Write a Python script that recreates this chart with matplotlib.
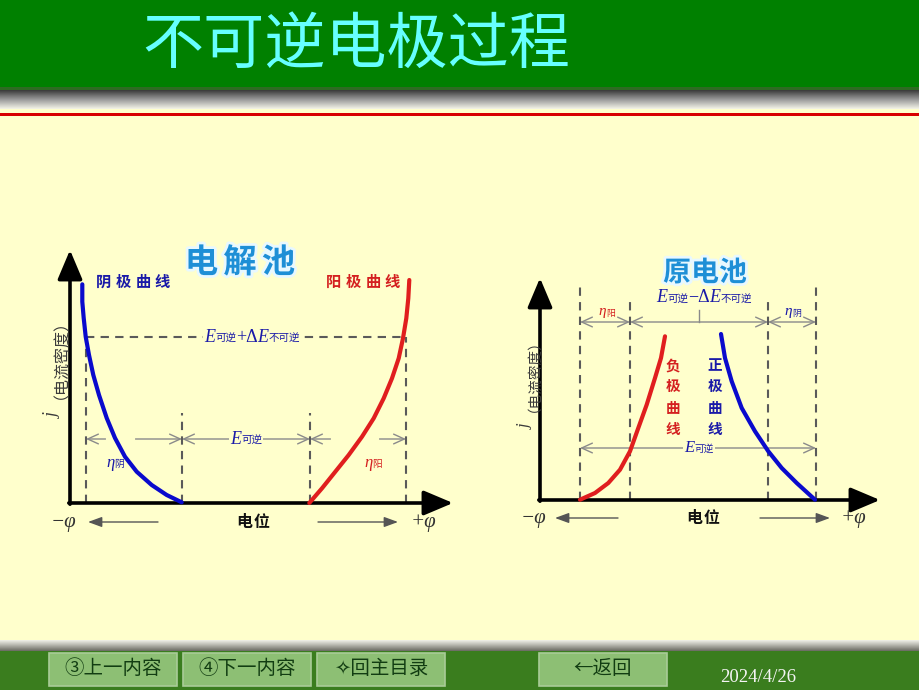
import numpy as np
import matplotlib
matplotlib.use('Agg')
from matplotlib import pyplot as plt
from matplotlib.patches import Rectangle
from matplotlib.offsetbox import TextArea, HPacker, AnnotationBbox
import matplotlib.patheffects as pe

plt.rcParams['font.family'] = ['Noto Sans CJK SC', 'DejaVu Sans']

BG = '#FFFFCC'
BLUE = '#0A0ACC'
RED = '#E01E1E'
TXT_BLUE = '#1A1AA8'
TXT_RED = '#D42020'
DASH = '#5A5A5A'
DIM = '#8A8A8A'

title = '不可逆电极过程'
buttons = ['③上一内容', '④下一内容', '✧回主目录', '←返回']
button_x = [49, 183, 317, 539]
date_text = '2024/4/26'

# electrolytic cell (left): potential / current, arbitrary units from origin
cathode_phi = [12.3, 12.3, 13.7, 15.7, 19, 23.3, 29, 36.7, 45, 55, 66.7, 81.7, 96.7, 111.7]
cathode_j = [218.7, 201.3, 185, 166.3, 148, 128, 108, 85, 65, 46.3, 31.3, 18, 8, 0.7]
anode_phi = [239.3, 252, 265.3, 278.7, 292, 303.7, 313.7, 322, 328.7, 333, 336.3, 338.3, 339.3]
anode_j = [0, 14.7, 31.3, 48, 66.3, 84.7, 104.7, 124.7, 144.7, 164.7, 184.7, 204.7, 223]
left_marks = [16, 112, 240, 336]      # phi of the dashed verticals
left_mark_top = [166, 90, 90, 166]
left_level = 166                      # j of the horizontal dashed line
left_dim_j = 64
left_gaps = [(38, 63), (263, 307)]    # breaks in the eta arrows

# galvanic cell (right)
neg_phi = [40, 55, 68.3, 80, 90, 98.3, 106.7, 115, 121, 125]
neg_j = [0.3, 7, 17, 30.3, 48.7, 72, 95.3, 122, 142, 163.7]
pos_phi = [181, 185, 191.7, 201.7, 215, 228.3, 241.7, 256.7, 275]
pos_j = [166, 142, 118.7, 92, 68.7, 48.7, 32, 17, 0.3]
right_marks = [40, 90, 228, 276]
right_mark_top = [217, 203, 203, 217]
right_dim_j = 178
right_low_j = 52

fig = plt.figure(figsize=(9.2, 6.9), dpi=100, facecolor=BG)

# ---- slide background in pixel coordinates ----
bg = fig.add_axes([0, 0, 1, 1])
bg.axis('off')
bg.set_facecolor(BG)
bg.add_patch(Rectangle((0, 0), 920, 89, color='#008000', lw=0))
bg.add_patch(Rectangle((0, 87), 920, 3, color='#2E6B22', lw=0))
grad = np.linspace(0, 1, 64)[:, None]
top_shadow = matplotlib.colors.LinearSegmentedColormap.from_list('s', ['#3A3A3A', '#9A9A9A', '#F4F4E8'])
bg.imshow(grad, cmap=top_shadow, extent=(0, 920, 109, 90), aspect='auto')
bg.add_patch(Rectangle((0, 112.5), 920, 3.5, color='#D80000', lw=0))
bot_shadow = matplotlib.colors.LinearSegmentedColormap.from_list('b', ['#F2F2EA', '#B0B0A8', '#6A6A62'])
bg.imshow(grad, cmap=bot_shadow, extent=(0, 920, 651, 640), aspect='auto')
bg.add_patch(Rectangle((0, 651), 920, 39, color='#3A7D1E', lw=0))
bg.set_xlim(0, 920)
bg.set_ylim(690, 0)

bg.text(356, 46, title, color='#66FFFF', fontsize=44, fontweight='light', ha='center', va='center')

for label, x0 in zip(buttons, button_x):
    bg.add_patch(Rectangle((x0, 653), 128, 33, facecolor='#8DBF74', edgecolor='#A9CC98', lw=1.2))
    bg.text(x0 + 64, 669, label, color='#123D12', fontsize=14, ha='center', va='center',
            family=['Noto Sans CJK SC', 'DejaVu Sans'])
bg.text(758, 678, date_text, color='#F4F4F4', fontsize=13.5, ha='center', va='center',
        family=['Liberation Serif'])


def spaced(ax, xc, y, s, step, **kw):
    x0 = xc - step * (len(s) - 1) / 2
    for i, ch in enumerate(s):
        ax.text(x0 + i * step, y, ch, ha='center', va='center', clip_on=False, **kw)


def sym_label(ax, x, y, parts, color, size=12, box=True):
    kids = []
    for txt, kind in parts:
        if kind == 'it':
            props = dict(family=['Liberation Serif'], style='italic', size=size, color=color)
        elif kind == 'op':
            props = dict(family=['Liberation Serif'], size=size, color=color)
        else:
            props = dict(family=['Noto Sans CJK SC'], size=size * 0.58, color=color)
        kids.append(TextArea(txt, textprops=props))
    pack = HPacker(children=kids, align='baseline', pad=0, sep=0)
    ab = AnnotationBbox(pack, (x, y), xycoords='data', frameon=box, pad=0.1,
                        bboxprops=dict(fc=BG, ec='none'), box_alignment=(0.5, 0.5),
                        annotation_clip=False, zorder=4)
    ax.add_artist(ab)


def axes_frame(ax, xmax, ymax):
    ax.set_xlim(0, xmax)
    ax.set_ylim(0, ymax)
    ax.axis('off')
    ax.patch.set_alpha(0)
    style = dict(arrowstyle='-|>,head_length=0.9,head_width=0.38', lw=2.6, color='k',
                 mutation_scale=20, shrinkA=0, shrinkB=0)
    ax.annotate('', xy=(0, ymax), xytext=(0, -1.2), arrowprops=style, annotation_clip=False)
    ax.annotate('', xy=(xmax, 0), xytext=(-1.2, 0), arrowprops=style, annotation_clip=False)


def dim_arrow(ax, x0, x1, y):
    ax.annotate('', xy=(x1, y), xytext=(x0, y), annotation_clip=False, zorder=2,
                arrowprops=dict(arrowstyle='<->,head_length=0.55,head_width=0.25', lw=1.0,
                                color=DIM, mutation_scale=14, shrinkA=0, shrinkB=0))


def phi_row(ax, y, xl, xr, xc, a_left, a_right):
    ax.text(xl, y, '−φ', family=['Liberation Serif'], style='italic', fontsize=15, color='#333333',
            ha='center', va='center', clip_on=False)
    ax.text(xr, y, '+φ', family=['Liberation Serif'], style='italic', fontsize=15, color='#333333',
            ha='center', va='center', clip_on=False)
    spaced(ax, xc, y, '电位', 17, fontsize=11.5, fontweight='bold', color='#111111')
    st = dict(arrowstyle='-|>,head_length=0.6,head_width=0.22', lw=1.0, color='#555555',
              mutation_scale=14, shrinkA=0, shrinkB=0)
    ax.annotate('', xy=(a_left[1], y), xytext=(a_left[0], y), arrowprops=st, annotation_clip=False)
    ax.annotate('', xy=(a_right[1], y), xytext=(a_right[0], y), arrowprops=st, annotation_clip=False)


def j_label(ax, x, yj, yword, size):
    ax.text(x, yj, 'j', family=['Liberation Serif'], style='italic', fontsize=size + 1.5, color='#3A3A3A',
            rotation=90, ha='center', va='center', clip_on=False)
    ax.text(x, yword, '（电流密度）', fontsize=size, color='#3A3A3A', rotation=90,
            ha='center', va='center', clip_on=False)


dash_kw = dict(color=DASH, lw=1.5, dashes=(4, 3), zorder=1)
glow = [pe.withStroke(linewidth=4, foreground='#E8F8FF')]

# ---- electrolytic cell ----
axl = fig.add_axes([70 / 920, (690 - 503) / 690, 383 / 920, 253 / 690])
axes_frame(axl, 383, 253)
for xm, tm in zip(left_marks, left_mark_top):
    axl.plot([xm, xm], [0, tm], **dash_kw)
axl.plot([left_marks[0], left_marks[-1]], [left_level, left_level], **dash_kw)
dim_arrow(axl, left_marks[0], left_marks[1], left_dim_j)
dim_arrow(axl, left_marks[1], left_marks[2], left_dim_j)
dim_arrow(axl, left_marks[2], left_marks[3], left_dim_j)
for g0, g1 in left_gaps:
    axl.plot([g0, g1], [left_dim_j, left_dim_j], color=BG, lw=3, zorder=2.5)
axl.plot(cathode_phi, cathode_j, color=BLUE, lw=3, solid_capstyle='round', solid_joinstyle='round',
         zorder=3, clip_on=False)
axl.plot(anode_phi, anode_j, color=RED, lw=3, solid_capstyle='round', solid_joinstyle='round',
         zorder=3, clip_on=False)
spaced(axl, 170, 240, '电解池', 38.5, fontsize=24, fontweight='bold', color='#1E8FD6', path_effects=glow)
spaced(axl, 63, 221, '阴极曲线', 19.7, fontsize=11, fontweight='bold', color=TXT_BLUE)
spaced(axl, 293, 221, '阳极曲线', 19.7, fontsize=11, fontweight='bold', color=TXT_RED)
sym_label(axl, 182, left_level, [('E', 'it'), ('可逆', 'sub'), ('+Δ', 'op'), ('E', 'it'), ('不可逆', 'sub')],
          TXT_BLUE, size=13)
sym_label(axl, 176, left_dim_j, [('E', 'it'), ('可逆', 'sub')], TXT_BLUE, size=13)
sym_label(axl, 45, 40, [('η', 'it'), ('阴', 'sub')], TXT_BLUE, size=12, box=False)
sym_label(axl, 303, 40, [('η', 'it'), ('阳', 'sub')], TXT_RED, size=12, box=False)
phi_row(axl, -19, -7, 353, 183, (88, 18), (248, 328))
j_label(axl, -17, 88, 152, 11.5)

# ---- galvanic cell ----
axr = fig.add_axes([540 / 920, (690 - 500) / 690, 340 / 920, 222 / 690])
axes_frame(axr, 340, 222)
for xm, tm in zip(right_marks, right_mark_top):
    axr.plot([xm, xm], [0, tm], **dash_kw)
dim_arrow(axr, right_marks[0], right_marks[1], right_dim_j)
dim_arrow(axr, right_marks[1], right_marks[2], right_dim_j)
dim_arrow(axr, right_marks[2], right_marks[3], right_dim_j)
mid = (right_marks[1] + right_marks[2]) / 2
axr.plot([mid, mid], [right_dim_j, right_dim_j + 12], color=DIM, lw=1.0)
dim_arrow(axr, right_marks[0], right_marks[3], right_low_j)
axr.plot(neg_phi, neg_j, color=RED, lw=3, solid_capstyle='round', solid_joinstyle='round',
         zorder=3, clip_on=False)
axr.plot(pos_phi, pos_j, color=BLUE, lw=3, solid_capstyle='round', solid_joinstyle='round',
         zorder=3, clip_on=False)
spaced(axr, 165, 227, '原电池', 28, fontsize=20, fontweight='bold', color='#1E8FD6', path_effects=glow)
for k, (cn, cp) in enumerate(zip('负极曲线', '正极曲线')):
    axr.text(133, 135 - 21.3 * k, cn, fontsize=10.5, fontweight='bold', color=TXT_RED, ha='center', va='center')
    axr.text(175, 135 - 21.3 * k, cp, fontsize=10.5, fontweight='bold', color=TXT_BLUE, ha='center', va='center')
sym_label(axr, 164, 202, [('E', 'it'), ('可逆', 'sub'), ('−Δ', 'op'), ('E', 'it'), ('不可逆', 'sub')],
          TXT_BLUE, size=13, box=False)
sym_label(axr, 159, right_low_j, [('E', 'it'), ('可逆', 'sub')], TXT_BLUE, size=12)
sym_label(axr, 67, 188, [('η', 'it'), ('阳', 'sub')], TXT_RED, size=11, box=False)
sym_label(axr, 253, 188, [('η', 'it'), ('阴', 'sub')], TXT_BLUE, size=11, box=False)
phi_row(axr, -18, -7, 313, 163, (78, 15), (220, 290))
j_label(axr, -14, 73, 132, 10.5)

fig.savefig('out.png', dpi=100, facecolor=BG)
